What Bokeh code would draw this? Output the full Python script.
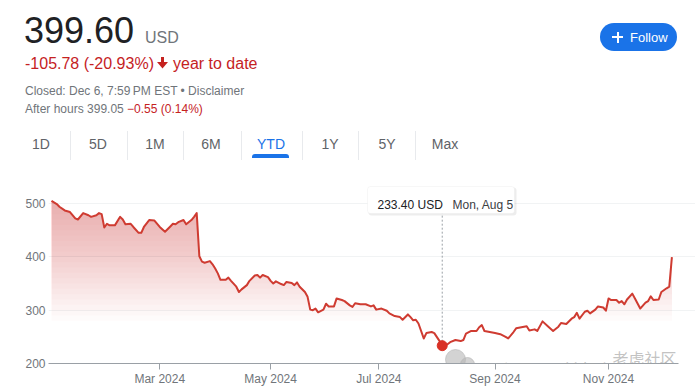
import numpy as np
import pandas as pd
from bokeh.plotting import figure
from bokeh.layouts import column
from bokeh.models import Range1d, FixedTicker, Label, BoxAnnotation, Div
from bokeh.embed import file_html
from bokeh.resources import INLINE

# ---------------- data ----------------
HOLIDAYS = ["2024-01-15", "2024-02-19", "2024-03-29", "2024-05-27",
            "2024-06-19", "2024-07-04", "2024-09-02", "2024-11-28"]

dates = [
    "2024-01-02", "2024-01-04", "2024-01-05", "2024-01-09", "2024-01-11", "2024-01-16",
    "2024-01-17", "2024-01-19", "2024-01-23", "2024-01-24", "2024-01-26", "2024-01-29",
    "2024-01-30", "2024-01-31", "2024-02-01", "2024-02-02", "2024-02-06", "2024-02-08",
    "2024-02-09", "2024-02-12", "2024-02-14", "2024-02-15", "2024-02-20", "2024-02-21",
    "2024-02-22", "2024-02-26", "2024-02-28", "2024-03-01", "2024-03-05", "2024-03-07",
    "2024-03-08", "2024-03-11", "2024-03-12", "2024-03-14", "2024-03-15", "2024-03-19",
    "2024-03-20", "2024-03-21", "2024-03-22", "2024-03-25", "2024-03-26", "2024-03-28",
    "2024-04-01", "2024-04-02", "2024-04-03", "2024-04-04", "2024-04-08", "2024-04-09",
    "2024-04-10", "2024-04-12", "2024-04-15", "2024-04-16", "2024-04-18", "2024-04-19",
    "2024-04-23", "2024-04-24", "2024-04-25", "2024-04-26", "2024-04-30", "2024-05-01",
    "2024-05-02", "2024-05-03", "2024-05-07", "2024-05-08", "2024-05-09", "2024-05-13",
    "2024-05-14", "2024-05-15", "2024-05-16", "2024-05-20", "2024-05-21", "2024-05-22",
    "2024-05-23", "2024-05-24", "2024-05-28", "2024-05-30", "2024-05-31", "2024-06-03",
    "2024-06-05", "2024-06-06", "2024-06-10", "2024-06-11", "2024-06-13", "2024-06-14",
    "2024-06-17", "2024-06-20", "2024-06-24", "2024-06-26", "2024-06-27", "2024-06-28",
    "2024-07-02", "2024-07-05", "2024-07-08", "2024-07-10", "2024-07-12", "2024-07-15",
    "2024-07-17", "2024-07-18", "2024-07-19", "2024-07-22", "2024-07-23", "2024-07-25",
    "2024-07-26", "2024-07-30", "2024-07-31", "2024-08-02", "2024-08-05", "2024-08-07",
    "2024-08-08", "2024-08-12", "2024-08-14", "2024-08-15", "2024-08-16", "2024-08-20",
    "2024-08-22", "2024-08-23", "2024-08-26", "2024-08-27", "2024-08-29", "2024-09-03",
    "2024-09-05", "2024-09-09", "2024-09-10", "2024-09-12", "2024-09-13", "2024-09-17",
    "2024-09-19", "2024-09-20", "2024-09-24", "2024-09-25", "2024-09-27", "2024-10-01",
    "2024-10-03", "2024-10-07", "2024-10-08", "2024-10-10", "2024-10-14", "2024-10-15",
    "2024-10-16", "2024-10-17", "2024-10-21", "2024-10-22", "2024-10-23", "2024-10-25",
    "2024-10-28", "2024-10-30", "2024-10-31", "2024-11-01", "2024-11-04", "2024-11-06",
    "2024-11-07", "2024-11-08", "2024-11-11", "2024-11-12", "2024-11-14", "2024-11-15",
    "2024-11-19", "2024-11-21", "2024-11-22", "2024-11-25", "2024-11-26", "2024-11-29",
    "2024-12-02", "2024-12-04", "2024-12-05", "2024-12-06",
]

prices = [
    505, 499, 494, 487, 484, 472,
    470, 482, 478, 475, 478, 482,
    480, 455, 462, 459, 459, 475,
    470, 461, 462, 456, 445, 445,
    456, 469, 468, 456, 447, 457,
    462, 461, 465, 469, 461, 469,
    475, 482, 401, 391, 389, 392,
    386, 378, 369, 357, 357, 361,
    355, 344, 334, 339, 347, 355,
    365, 366, 361, 366, 362, 355,
    350, 354, 349, 347, 353, 351,
    347, 352, 344, 334, 325, 301,
    300, 303, 296, 301, 312, 307,
    307, 322, 319, 317, 309, 306,
    313, 311, 311, 307, 309, 301,
    303, 299, 294, 289, 287, 282,
    292, 287, 281, 282, 275, 247,
    257, 259, 257, 242, 233.4, 236,
    240, 244, 242, 244, 256, 261,
    261, 268, 272, 261, 259, 257,
    255, 250, 247, 259, 266, 268,
    270, 262, 264, 261, 279, 270,
    261, 269, 276, 274, 284, 287,
    295, 284, 297, 299, 294, 301,
    307, 305, 299, 322, 319, 319,
    314, 317, 311, 320, 331, 322,
    303, 314, 317, 326, 319, 320,
    334, 341, 344, 399.6,
]

tick_dates = ["2024-03-01", "2024-05-01", "2024-07-01", "2024-09-03", "2024-11-01"]
tick_labels = ["Mar 2024", "May 2024", "Jul 2024", "Sep 2024", "Nov 2024"]
y_ticks = [200, 300, 400, 500]
grid_ticks = [300, 400, 500]

hover_date = "2024-08-05"
hover_price = 233.40
hover_label = "Mon, Aug 5"

tabs = ["1D", "5D", "1M", "6M", "YTD", "1Y", "5Y", "Max"]
active_tab = "YTD"

# ---------------- scales ----------------
cal = pd.bdate_range("2024-01-02", "2024-12-06", freq="C", holidays=HOLIDAYS)
pos = {d: i for i, d in enumerate(cal.strftime("%Y-%m-%d"))}
xs = np.array([pos[d] for d in dates], dtype=float)
ys = np.array(prices, dtype=float)

FONT = "Liberation Sans"
RED = "#cf3b31"
TXT_RED = "#c5221f"
GRAY = "#70757a"
BLUE = "#1a73e8"

W = 695
HEAD_H = 170
CHART_H = 391 - HEAD_H

# ---------------- header (HTML) ----------------
def span(left, baseline, text, size, color, extra=""):
    top = baseline - 0.8465 * size
    return (f'<span style="position:absolute;left:{left}px;top:{top:.1f}px;'
            f'font-size:{size}px;line-height:{size}px;color:{color};white-space:nowrap;{extra}">'
            f'{text}</span>')

def box(left, top, w, hgt, color, extra=""):
    return (f'<div style="position:absolute;left:{left}px;top:{top}px;width:{w}px;'
            f'height:{hgt}px;background:{color};{extra}"></div>')

parts = []
parts.append(span(24, 43, "399.60", 36, "#202124"))
parts.append(span(145, 43, "USD", 16, GRAY))
parts.append(span(25, 69, "-105.78 (-20.93%)", 16, TXT_RED))
parts.append('<svg style="position:absolute;left:157px;top:57px" width="11" height="12" '
             'viewBox="0 0 11 12"><rect x="4" y="0" width="3" height="6" fill="%s"/>'
             '<polygon points="0,5 11,5 5.5,11.5" fill="%s"/></svg>' % (TXT_RED, TXT_RED))
parts.append(span(173, 69, "year to date", 16, TXT_RED))
parts.append(span(25, 95, "Closed: Dec 6, 7:59&#8239;PM EST &bull; Disclaimer", 12, GRAY))
parts.append(span(25, 113, "After hours 399.05 "
                  f'<span style="color:{TXT_RED}">&minus;0.55 (0.14%)</span>', 12, GRAY))

tab_x = [41, 98, 155, 211, 271, 330, 387, 445]
for tx, t in zip(tab_x, tabs):
    col = BLUE if t == active_tab else "#5f6368"
    top = 149 - 0.8465 * 14
    parts.append(f'<span style="position:absolute;left:{tx - 40}px;width:80px;text-align:center;'
                 f'top:{top:.1f}px;font-size:14px;line-height:14px;color:{col}">{t}</span>')
for sx in [70, 127, 183, 241, 302, 358, 415]:
    parts.append(box(sx, 131, 1, 29, "#e8eaed"))
parts.append(box(252, 154, 37, 4, BLUE, "border-radius:3px 3px 0 0;"))

# follow button
parts.append(box(600, 23, 77, 28, BLUE, "border-radius:14px;"))
parts.append(box(612, 36, 11, 2, "white"))
parts.append(box(616.5, 31.5, 2, 11, "white"))
parts.append(span(630, 42, "Follow", 13, "white"))

html = (f'<div style="position:relative;width:{W}px;height:{HEAD_H}px;overflow:hidden;'
        f'font-family:\'{FONT}\',Arial,sans-serif;background:white">' + "".join(parts) + "</div>")
header = Div(text=html, width=W, height=HEAD_H, margin=0)

# ---------------- chart figure ----------------
X0, XS = 51.0, 2.64           # page x of first session, px per session
YB, YS = 363.0, 1.875          # page y of value 200, value units per px
def dx(px):
    return (px - X0) / XS
def dy(py):
    return 200 + (YB - py) * YS

p = figure(width=W, height=CHART_H, output_backend="svg", toolbar_location=None,
           x_range=Range1d(dx(48), dx(W)), y_range=Range1d(dy(YB), dy(HEAD_H)),
           min_border_left=48, min_border_right=0, min_border_top=0,
           min_border_bottom=391 - int(YB), margin=0)
p.outline_line_color = None
p.background_fill_color = "white"
p.border_fill_color = "white"

p.xaxis.ticker = FixedTicker(ticks=[pos[d] for d in tick_dates])
p.xaxis.major_label_overrides = {pos[d]: l for d, l in zip(tick_dates, tick_labels)}
p.xaxis.bounds = (dx(48), dx(678))
p.xaxis.axis_line_color = "#9aa0a6"
p.xaxis.major_tick_line_color = "#9aa0a6"
p.xaxis.major_tick_out = 6
p.xaxis.major_tick_in = 0
p.xaxis.minor_tick_line_color = None
p.xaxis.major_label_standoff = 2
p.xaxis.major_label_text_font = FONT
p.xaxis.major_label_text_font_size = "12px"
p.xaxis.major_label_text_color = GRAY

p.yaxis.ticker = FixedTicker(ticks=y_ticks)
p.yaxis.axis_line_color = None
p.yaxis.major_tick_line_color = None
p.yaxis.major_tick_out = 0
p.yaxis.major_tick_in = 0
p.yaxis.minor_tick_line_color = None
p.yaxis.major_label_standoff = 3
p.yaxis.major_label_text_font = FONT
p.yaxis.major_label_text_font_size = "12px"
p.yaxis.major_label_text_color = GRAY

p.xgrid.visible = False
p.ygrid.ticker = FixedTicker(ticks=grid_ticks)
p.ygrid.grid_line_color = "#f1f3f4"

# gradient area (stacked translucent bands, coarse enough to avoid 8-bit drift)
for t in np.arange(280, 510, 10):
    p.varea(x=xs, y1=np.full_like(ys, t), y2=np.maximum(ys, t),
            fill_color="#c82828", fill_alpha=0.02)

# price line
p.line(xs, ys, line_color=RED, line_width=2, line_join="round")

# hover marker
hx = pos[hover_date]
p.segment(x0=[hx], y0=[hover_price], x1=[hx], y1=[dy(213)],
          line_color="#9aa0a6", line_width=1, line_dash="2 2")
p.scatter([hx], [hover_price], size=10, color="#d93025")

# tooltip box
p.add_layout(BoxAnnotation(left=dx(368), right=dx(516), top=dy(187), bottom=dy(215),
                           fill_color="black", fill_alpha=0.07, line_color=None,
                           border_radius=3))
p.add_layout(BoxAnnotation(left=dx(367), right=dx(514), top=dy(186), bottom=dy(213),
                           fill_color="white", fill_alpha=1, line_color="#e6e6e6",
                           line_width=1, border_radius=3))
p.add_layout(Label(x=dx(377), y=dy(204), text="%.2f USD" % hover_price,
                   text_font=FONT, text_font_size="12px", text_color="#202124",
                   text_baseline="alphabetic"))
p.add_layout(Label(x=dx(452), y=dy(204), text=hover_label,
                   text_font=FONT, text_font_size="12px", text_color="#3c4043",
                   text_baseline="alphabetic"))

# watermark
p.scatter([dx(455), dx(467)], [dy(359), dy(364)], size=[20, 14],
          color="#b5b5b5", alpha=0.6)
p.add_layout(Label(x=dx(477), y=dy(370), text="公众号 · 美投标普纳指",
                   text_font="Noto Sans CJK SC", text_font_size="19px",
                   text_color="#a0a0a0", text_alpha=0.75, text_baseline="alphabetic"))
p.add_layout(Label(x=dx(612), y=dy(357), text="老虎社区",
                   text_font="Noto Sans CJK SC", text_font_size="16px",
                   text_color="#a8a8a8", text_alpha=0.7, text_baseline="alphabetic"))

layout = column(header, p, spacing=0, margin=0)
open("out.html", "w").write(file_html(layout, INLINE))
